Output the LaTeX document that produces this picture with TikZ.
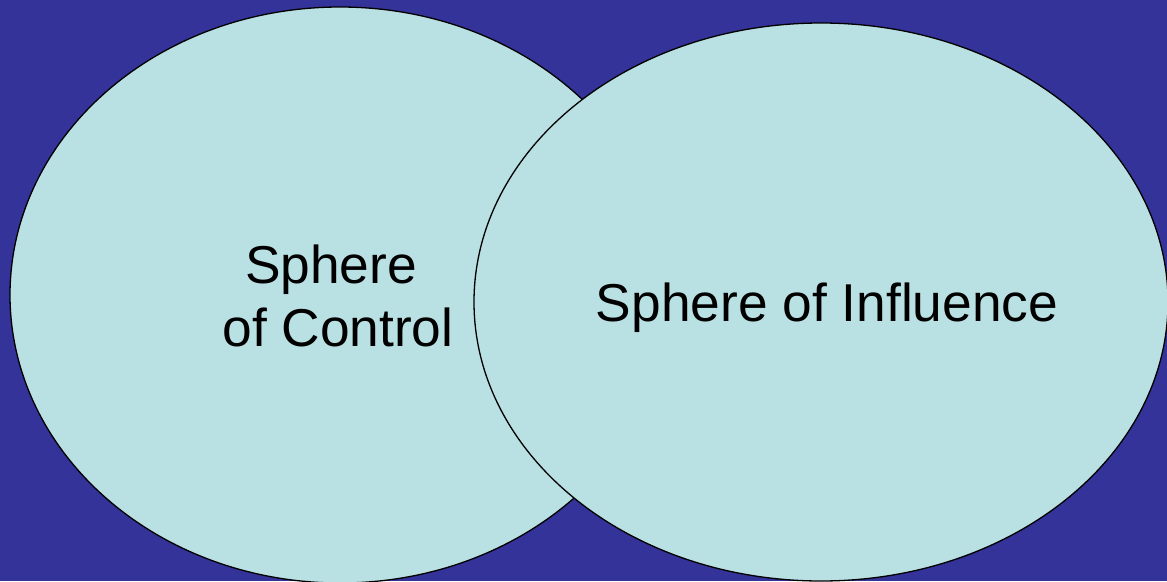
\documentclass[tikz,border=0pt]{standalone}
\usepackage{fontspec}
\setmainfont{Liberation Sans}
\usetikzlibrary{shapes.geometric}
\definecolor{bgblue}{RGB}{51,51,153}
\definecolor{sphfill}{RGB}{185,224,227}
\begin{document}
\begin{tikzpicture}[x=1pt,y=-1pt,
  sphere/.style={ellipse, draw=black, line width=1.3pt, fill=sphfill, inner sep=0pt},
  label/.style={anchor=base, inner sep=0pt, font=\fontsize{53.3}{63}\selectfont, text=black}]
\fill[bgblue] (0,0) rectangle (1167,581);
\useasboundingbox (0,0) rectangle (1167,581);
\node[sphere, minimum width=660pt, minimum height=576pt] (control) at (340,295) {};
\node[sphere, minimum width=694pt, minimum height=558pt] (influence) at (821,302) {};
\node[label] (ctrlA) at (331,283) {Sphere};
\node[label] (ctrlB) at (338,346) {of Control};
\node[label] (infl) at (827,321) {Sphere of Influence};
\end{tikzpicture}
\end{document}
